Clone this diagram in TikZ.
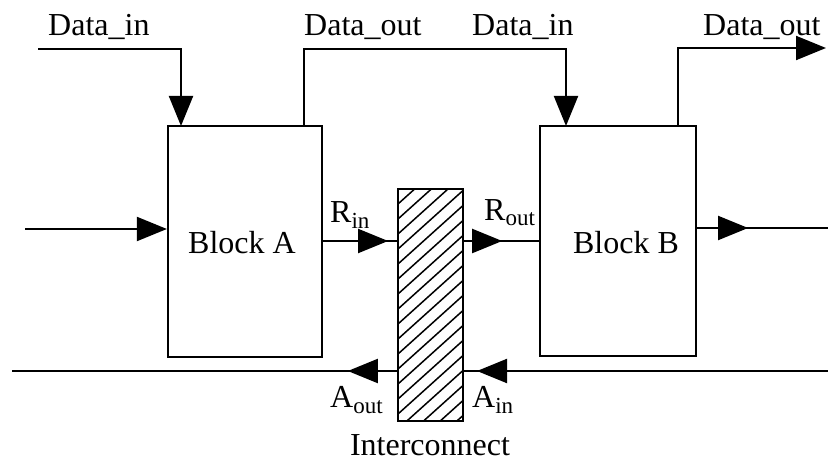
\documentclass[tikz,border=0pt]{standalone}
\usepackage{fontspec}
\setmainfont{Liberation Serif}
\usetikzlibrary{arrows.meta,decorations.markings}
\newcommand{\sbs}[1]{\raisebox{-0.35ex}{\fontsize{23}{23}\selectfont #1}}
\begin{document}
\begin{tikzpicture}[x=1pt,y=-1pt,
  wire/.style={line width=2pt},
  tip/.style={-{Triangle[length=30pt,width=24pt]}},
  midtip/.style={postaction={decorate},decoration={markings,mark=at position #1 with {\arrow{Triangle[length=30pt,width=24pt]}}}},
  blockbox/.style={line width=2.2pt,inner sep=0pt},
  lbl/.style={font=\fontsize{32}{36}\selectfont,inner sep=0pt}]
\useasboundingbox (0,0) rectangle (828,462);
% blocks
\node[blockbox,draw,minimum width=154pt,minimum height=231pt] (A) at (245,241.5) {};
\node[blockbox,draw,minimum width=156pt,minimum height=230pt] (B) at (618,241) {};
\node[lbl] (tA) at (242,243) {Block A};
\node[lbl] (tB) at (626,243) {Block B};
% interconnect
\node[minimum width=65pt,minimum height=232pt,inner sep=0pt] (I) at (430.5,305) {};
\begin{scope}
\clip (I.south west) rectangle (I.north east);
\foreach \k in {0,...,24}{
  \draw[line width=1.5pt] (398,{189+15*\k}) -- ++(80,-72);
}
\end{scope}
\draw[line width=2.2pt] (I.south west) rectangle (I.north east);
\node[lbl] (tI) at (430,445) {Interconnect};
% coordinates
\coordinate (dinA) at (38,49);
\coordinate (inL) at (25,229);
\coordinate (outR) at (828,228);
\coordinate (doutB) at (826,48);
\coordinate (ackL) at (12,371);
\coordinate (ackR) at (828,371);
% wires
\draw[wire,tip] (dinA) -| (181,126);
\draw[wire,tip] (304,126) |- (566,49) -- (566,126);
\draw[wire,tip] (678,126) |- (doutB);
\draw[wire,tip] (inL) -- (A.west |- inL);
\draw[wire,midtip=51pt] (B.east |- outR) -- (outR);
\draw[wire,midtip=65pt] (A.east |- 0,241) -- (I.west |- 0,241);
\draw[wire,midtip=39pt] (I.east |- 0,241) -- (B.west |- 0,241);
\draw[wire,midtip=351pt] (ackR) -- (I.east |- ackR);
\draw[wire,midtip=50pt] (I.west |- ackR) -- (ackL);
% labels
\node[lbl,anchor=west] (l1) at (48,27) {Data\_in};
\node[lbl,anchor=west] (l2) at (304,27) {Data\_out};
\node[lbl,anchor=west] (l3) at (472,27) {Data\_in};
\node[lbl,anchor=west] (l4) at (703,27) {Data\_out};
\node[lbl,anchor=west] (rin) at (330,215) {R\sbs{in}};
\node[lbl,anchor=west] (rout) at (484,213) {R\sbs{out}};
\node[lbl,anchor=west] (aout) at (330,400) {A\sbs{out}};
\node[lbl,anchor=west] (ain) at (472,400) {A\sbs{in}};
\end{tikzpicture}
\end{document}
